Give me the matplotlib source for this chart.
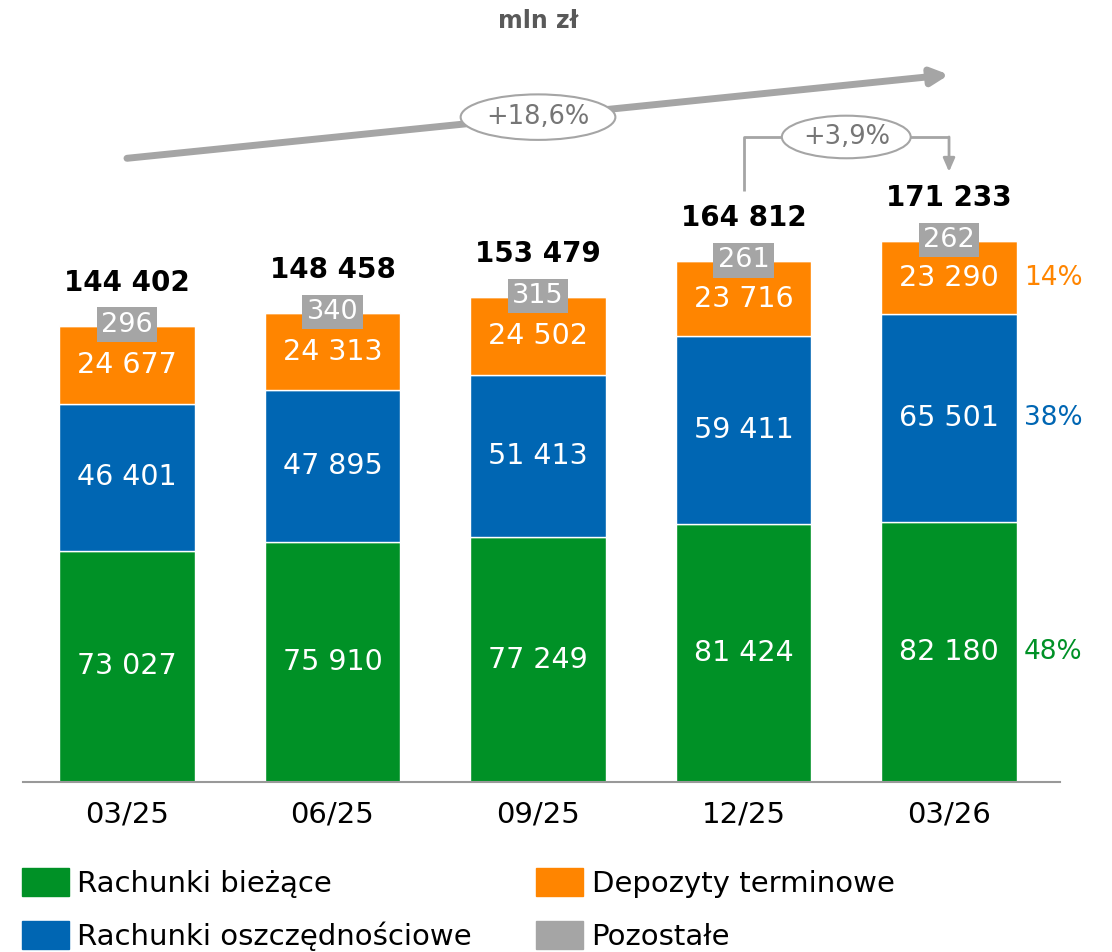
import numpy as np
import matplotlib
matplotlib.use("Agg")
import matplotlib.pyplot as plt

periods = ["03/25", "06/25", "09/25", "12/25", "03/26"]
biezace = [73027, 75910, 77249, 81424, 82180]
oszczednosciowe = [46401, 47895, 51413, 59411, 65501]
terminowe = [24677, 24313, 24502, 23716, 23290]
pozostale = [296, 340, 315, 261, 262]
totals = [144402, 148458, 153479, 164812, 171233]
growth_year = "+18,6%"
growth_q = "+3,9%"

names = ["Rachunki bieżące", "Rachunki oszczędnościowe", "Depozyty terminowe", "Pozostałe"]
colors = ["#009126", "#0066b3", "#ff8500", "#a5a5a5"]
grey = "#a5a5a5"

plt.rcParams['font.family'] = ['DejaVu Sans']

def fmt(v):
    return f"{v:,}".replace(",", " ")

fig = plt.figure(figsize=(11.12, 9.52), dpi=100)
ax = fig.add_axes([23 / 1112, 170 / 952, (1060 - 23) / 1112, 782 / 952])

x = np.arange(len(periods))
w = 0.66
series = [biezace, oszczednosciowe, terminowe, pozostale]
bottom = np.zeros(len(periods))
for vals, c in zip(series, colors):
    ax.bar(x, vals, w, bottom=bottom, color=c, edgecolor="white", linewidth=1)
    # labels inside the three main segments
    if c != grey:
        for xi, v, b0 in zip(x, vals, bottom):
            ax.text(xi, b0 + v / 2, fmt(v), ha="center", va="center",
                    color="white", fontsize=20.5)
    bottom = bottom + np.array(vals)

# grey boxes for "Pozostałe" and totals
for xi, p, t in zip(x, pozostale, totals):
    ax.text(xi, t, str(p), ha="center", va="center", color="white", fontsize=19.5,
            bbox=dict(boxstyle="square,pad=0.16", fc=grey, ec="none"))
    ax.annotate(fmt(t), (xi, t), xytext=(0, 20), textcoords="offset points",
                ha="center", va="bottom", fontsize=20, fontweight="bold", color="black")

# share of last period on the right
last = len(periods) - 1
b0 = 0
for vals, c in zip(series[:3], colors[:3]):
    share = vals[last] / totals[last] * 100
    ax.annotate(f"{share:.0f}%", (last + w / 2, b0 + vals[last] / 2), xytext=(5, 0),
                textcoords="offset points", ha="left", va="center", fontsize=19, color=c)
    b0 += vals[last]

# long growth arrow
ax.annotate("", xy=(4, 223400), xytext=(0, 197000),
            arrowprops=dict(arrowstyle="-|>,head_length=1.0,head_width=0.5", lw=5,
                            color=grey, shrinkA=0, shrinkB=0))
ax.text(2, 210000, growth_year, ha="center", va="center", fontsize=18.5, color="#767676",
        bbox=dict(boxstyle="ellipse,pad=0.12", fc="white", ec=grey, lw=1.5))

# quarter growth connector
top_q = max(totals) + 32500
ax.plot([3, 3, 4], [totals[3] + 22000, top_q, top_q], color=grey, lw=2, solid_capstyle="butt")
ax.annotate("", xy=(4, totals[4] + 21500), xytext=(4, top_q),
            arrowprops=dict(arrowstyle="-|>,head_length=0.8,head_width=0.35", lw=2,
                            color=grey, shrinkA=0, shrinkB=0))
ax.text(3.5, top_q, growth_q, ha="center", va="center", fontsize=18.5, color="#767676",
        bbox=dict(boxstyle="ellipse,pad=0.08", fc="white", ec=grey, lw=1.5))

ax.set_xlim(-0.506, 4.54)
ax.set_ylim(0, 247000)
ax.set_xticks(x)
ax.set_xticklabels(periods, fontsize=21)
ax.tick_params(axis="x", length=0, pad=13)
ax.set_yticks([])
for s in ["top", "left", "right"]:
    ax.spines[s].set_visible(False)
ax.spines["bottom"].set_color("#999999")
ax.spines["bottom"].set_linewidth(1.5)
ax.patch.set_alpha(0)

fig.text(538 / 1112, 1 - 21 / 952, "mln zł", ha="center", va="center",
         fontsize=17, fontweight="bold", color="#595959")

handles = [plt.Rectangle((0, 0), 1, 1, color=c) for c in colors]
fig.legend(handles, names, ncol=2, loc="upper left",
           bbox_to_anchor=(22 / 1112, 1 - 868 / 952), frameon=False, fontsize=21,
           handlelength=1.6, handleheight=1.1, handletextpad=0.3,
           columnspacing=2.2, labelspacing=0.8, borderaxespad=0, borderpad=0)

fig.savefig("out.png", dpi=100)
